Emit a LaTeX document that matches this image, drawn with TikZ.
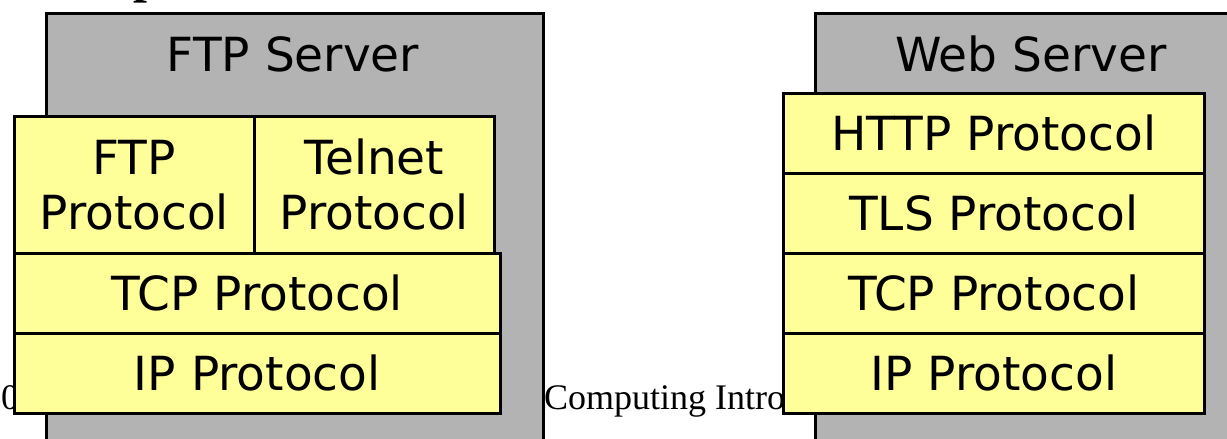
\documentclass[tikz,border=0pt]{standalone}
\usepackage{fontspec}
\setmainfont{DejaVu Sans}
\newfontfamily\seriffont{Liberation Serif}
\definecolor{servergray}{RGB}{179,179,179}
\definecolor{layeryellow}{RGB}{255,255,153}
\begin{document}
\begin{tikzpicture}[x=1pt,y=-1pt,
  server/.style={draw=black, line width=2.5pt, fill=servergray, inner sep=0pt, anchor=north west},
  layer/.style={draw=black, line width=2.5pt, fill=layeryellow, inner sep=0pt,
    anchor=north west, align=center, font=\fontsize{47}{55}\selectfont},
  boxtitle/.style={font=\fontsize{47}{55}\selectfont, anchor=base, inner sep=0pt},
  footer/.style={font=\seriffont\fontsize{36}{40}\selectfont, anchor=base west, inner sep=0pt}]
\useasboundingbox (0,0) rectangle (1227,439);
\clip (0,0) rectangle (1227,439);

% slide heading (only its lowest part lies inside the frame)
\node[font=\seriffont\bfseries\fontsize{50}{56}\selectfont, anchor=base west, inner sep=0pt]
  (heading) at (133,-7) {p};

% server boxes
\node[server, minimum width=497pt, minimum height=460pt] (ftpbox) at (45,12) {};
\node[boxtitle] (ftptitle) at (293,71) {FTP Server};
\node[server, minimum width=460pt, minimum height=460pt] (webbox) at (814,12) {};
\node[boxtitle] (webtitle) at (1031,71) {Web Server};

% footer line behind the stacks
\node[footer] (footdate) at (1,409) {0};
\node[footer] (footcourse) at (544,409) {Computing Intro};

% FTP server protocol stack
\node[layer, minimum width=240pt, minimum height=137pt] (ftp) at (13,115) {FTP\\Protocol};
\node[layer, minimum width=240pt, minimum height=137pt] (telnet) at (253,115) {Telnet\\Protocol};
\node[layer, minimum width=486pt, minimum height=80pt] (tcpA) at (13,252) {TCP Protocol};
\node[layer, minimum width=486pt, minimum height=80pt] (ipA) at (13,332) {IP Protocol};

% Web server protocol stack
\node[layer, minimum width=421pt, minimum height=80pt] (http) at (782,92) {HTTP Protocol};
\node[layer, minimum width=421pt, minimum height=80pt] (tls) at (782,172) {TLS Protocol};
\node[layer, minimum width=421pt, minimum height=80pt] (tcpB) at (782,252) {TCP Protocol};
\node[layer, minimum width=421pt, minimum height=80pt] (ipB) at (782,332) {IP Protocol};
\end{tikzpicture}
\end{document}
